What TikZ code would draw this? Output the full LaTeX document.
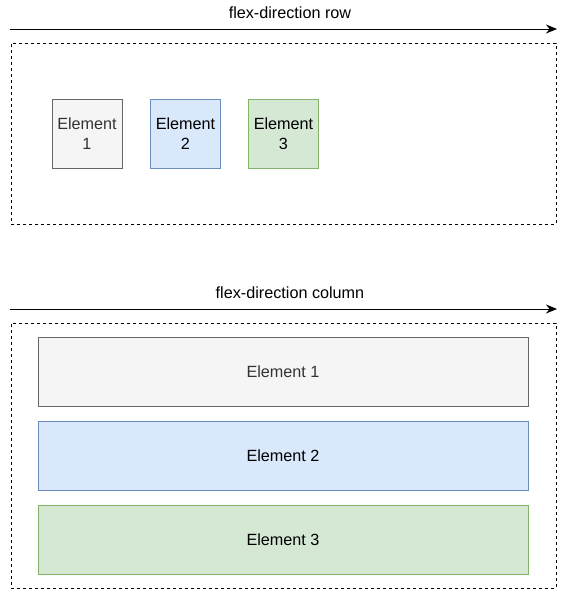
\documentclass[tikz,border=0pt]{standalone}
\usepackage{fontspec}
\setmainfont{Liberation Sans}
\usetikzlibrary{arrows.meta}
\definecolor{grayfill}{HTML}{F5F5F5}
\definecolor{graystroke}{HTML}{666666}
\definecolor{graytext}{HTML}{333333}
\definecolor{bluefill}{HTML}{DAE8FC}
\definecolor{bluestroke}{HTML}{6C8EBF}
\definecolor{greenfill}{HTML}{D5E8D4}
\definecolor{greenstroke}{HTML}{82B366}
\begin{document}
\begin{tikzpicture}[x=1pt,y=-1pt,
  container/.style={draw=black, dashed, dash pattern=on 3pt off 3pt, line width=0.8pt},
  elem/.style={draw, line width=0.8pt, minimum width=#1, align=center, inner sep=0pt, font=\fontsize{16.2}{20}\selectfont},
  gray el/.style={fill=grayfill, draw=graystroke, text=graytext},
  blue el/.style={fill=bluefill, draw=bluestroke, text=black},
  green el/.style={fill=greenfill, draw=greenstroke, text=black},
  dirarrow/.style={-{Stealth[length=11pt,width=9pt]}, line width=0.8pt},
  lbl/.style={font=\fontsize{16.2}{20}\selectfont, inner sep=0pt}]
\useasboundingbox (0,0) rectangle (569,590);
% top section
\coordinate (a1s) at (10,29);
\coordinate (a1e) at (557,29);
\draw[dirarrow] (a1s) -- (a1e);
\node[lbl] (l1) at (290,13) {flex-direction row};
\node[container, minimum width=545pt, minimum height=181pt, inner sep=0pt] (c1) at (283.5,133.5) {};
\node[elem=70pt, minimum height=69pt, gray el] (r1) at (87,133.5) {Element\\1};
\node[elem=70pt, minimum height=69pt, blue el] (r2) at (185.5,133.5) {Element\\2};
\node[elem=70pt, minimum height=69pt, green el] (r3) at (283.5,133.5) {Element\\3};
% bottom section
\coordinate (a2s) at (10,309);
\coordinate (a2e) at (557,309);
\draw[dirarrow] (a2s) -- (a2e);
\node[lbl] (l2) at (290,293) {flex-direction column};
\node[container, minimum width=545pt, minimum height=265pt, inner sep=0pt] (c2) at (283.5,455.5) {};
\node[elem=490pt, minimum height=69pt, gray el] (k1) at (283,371.5) {Element 1};
\node[elem=490pt, minimum height=69pt, blue el] (k2) at (283,455.5) {Element 2};
\node[elem=490pt, minimum height=69pt, green el] (k3) at (283,539.5) {Element 3};
\end{tikzpicture}
\end{document}
